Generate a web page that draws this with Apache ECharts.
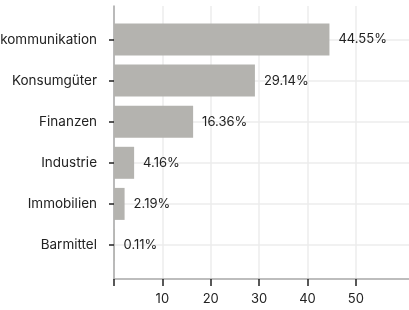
<!DOCTYPE html>
<html>
<head>
<meta charset="utf-8">
<script src="https://cdn.jsdelivr.net/npm/echarts@6/dist/echarts.min.js"></script>
<style>
html, body { margin: 0; padding: 0; background: #fff; }
#view { width: 409px; height: 310px; }
</style>
</head>
<body>
<div id="view"></div>
<script>
var myChart = echarts.init(document.getElementById('view'));

var categories = ['Telekommunikation', 'Konsumgüter', 'Finanzen', 'Industrie', 'Immobilien', 'Barmittel'];
var values = [44.55, 29.14, 16.36, 4.16, 2.19, 0.11];
var xTicks = [0, 10, 20, 30, 40, 50];
var xLabels = [10, 20, 30, 40, 50];

var font = 'Inter';
var xMax = 61;

var option = {
    animation: false,
    grid: [
        { left: 114, right: 0, top: 6, bottom: 31, outerBoundsMode: 'none' },
        { left: 114, right: 0, top: 39.5, height: 205.5, outerBoundsMode: 'none' }
    ],
    xAxis: [
        {
            gridIndex: 0,
            type: 'value',
            min: 0,
            max: xMax,
            interval: 10,
            axisLine: { show: true, lineStyle: { color: '#a8a8a8', width: 1.5 } },
            axisTick: {
                show: true,
                customValues: xTicks,
                length: 7,
                lineStyle: { color: '#222', width: 1.5 }
            },
            axisLabel: {
                customValues: xLabels,
                margin: 14,
                color: '#222',
                fontFamily: font,
                fontSize: 13
            },
            splitLine: { show: true, lineStyle: { color: '#ececec', width: 1.5 } }
        },
        {
            gridIndex: 1,
            type: 'value',
            min: 0,
            max: xMax,
            show: false
        }
    ],
    yAxis: [
        {
            gridIndex: 0,
            type: 'value',
            axisLine: { show: true, lineStyle: { color: '#a8a8a8', width: 1.5 } },
            axisTick: { show: false },
            axisLabel: { show: false },
            splitLine: { show: false }
        },
        {
            gridIndex: 1,
            type: 'category',
            inverse: true,
            boundaryGap: false,
            data: categories,
            axisLine: { show: false },
            axisTick: { show: true, length: 5, lineStyle: { color: '#222', width: 1.5 } },
            axisLabel: {
                margin: 17,
                color: '#222',
                fontFamily: font,
                fontSize: 13.5
            },
            splitLine: { show: true, lineStyle: { color: '#ececec', width: 1.5 } }
        }
    ],
    series: [{
        type: 'bar',
        xAxisIndex: 1,
        yAxisIndex: 1,
        data: values,
        barWidth: 32,
        itemStyle: { color: '#b4b3af' },
        label: {
            show: true,
            position: 'right',
            distance: 9,
            color: '#222',
            fontFamily: font,
            fontSize: 13,
            formatter: function (p) { return p.value.toFixed(2) + '%'; }
        }
    }]
};

myChart.setOption(option);
</script>
</body>
</html>
